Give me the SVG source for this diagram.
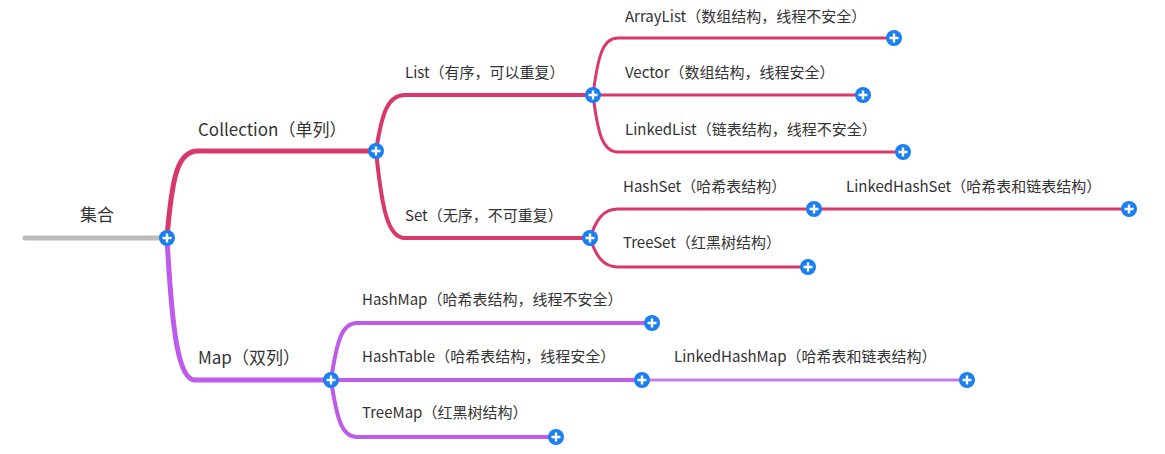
<svg xmlns="http://www.w3.org/2000/svg" width="1165" height="454" viewBox="0 0 1165 454">
<defs>
<style>
text{font-family:"Noto Sans CJK SC","Microsoft YaHei","Liberation Sans",sans-serif;fill:#333;}
.t1{font-size:17px;}
.t2{font-size:15px;}
.c{fill:none;stroke-linecap:round;}
.pk{stroke:#d9386d;}
.pu{stroke:#bf5bea;}
.w5{stroke-width:5;}
.w4{stroke-width:4;}
.w3{stroke-width:3;}
</style>
<g id="plus">
<circle r="8" fill="#1a7ff0"/>
<path d="M-4.5,0H4.5M0,-4.5V4.5" stroke="#fff" stroke-width="2.4"/>
</g>
</defs>
<rect width="1165" height="454" fill="#fff"/>
<g id="connectors">
<path class="c w5" stroke="#bbbbbb" d="M25,238H167"/>
<path class="c pk w5" d="M167,238 C172,175 178,151 198,151 H376"/>
<path class="c pu w5" d="M167,238 C172,330 178,380 195,380 H331"/>
<path class="c pk w4" d="M376,151 C382,112 388,95 405,95 H593"/>
<path class="c pk w4" d="M376,151 C382,210 388,238 405,238 H590"/>
<path class="c pk w3" d="M593,95 C598,55 603,38 618,38 H894"/>
<path class="c pk w3" d="M593,95 H863"/>
<path class="c pk w3" d="M593,95 C598,135 603,152 618,152 H903"/>
<path class="c pk w3" d="M590,238 C596,220 603,209 618,209 H814"/>
<path class="c pk w3" d="M814,209 H1129"/>
<path class="c pk w3" d="M590,238 C596,256 603,267 618,267 H808"/>
<path class="c pu w4" d="M331,380 C337,340 342,323 357,323 H652"/>
<path class="c pu w4" d="M331,380 H642"/>
<path class="c w3" stroke="#c77cea" d="M642,380 H967"/>
<path class="c pu w4" d="M331,380 C337,420 342,437 357,437 H556"/>
</g>
<g id="n-root"><text x="97" y="221" class="t1" text-anchor="middle">集合</text><use href="#plus" x="167" y="238"/></g>
<g id="n-collection"><text x="198" y="136" class="t1">Collection（单列）</text><use href="#plus" x="376" y="151"/></g>
<g id="n-map"><text x="198" y="364" class="t1">Map（双列）</text><use href="#plus" x="331" y="380"/></g>
<g id="n-list"><text x="405" y="78" class="t2">List（有序，可以重复）</text><use href="#plus" x="593" y="95"/></g>
<g id="n-set"><text x="405" y="221" class="t2">Set（无序，不可重复）</text><use href="#plus" x="590" y="238"/></g>
<g id="n-arraylist"><text x="625" y="22" class="t2">ArrayList（数组结构，线程不安全）</text><use href="#plus" x="894" y="38"/></g>
<g id="n-vector"><text x="625" y="78" class="t2">Vector（数组结构，线程安全）</text><use href="#plus" x="863" y="95"/></g>
<g id="n-linkedlist"><text x="625" y="135" class="t2">LinkedList（链表结构，线程不安全）</text><use href="#plus" x="903" y="152"/></g>
<g id="n-hashset"><text x="623" y="192" class="t2">HashSet（哈希表结构）</text><use href="#plus" x="814" y="209"/></g>
<g id="n-linkedhashset"><text x="846" y="192" class="t2">LinkedHashSet（哈希表和链表结构）</text><use href="#plus" x="1129" y="209"/></g>
<g id="n-treeset"><text x="623" y="248" class="t2">TreeSet（红黑树结构）</text><use href="#plus" x="808" y="267"/></g>
<g id="n-hashmap"><text x="362" y="305" class="t2">HashMap（哈希表结构，线程不安全）</text><use href="#plus" x="652" y="323"/></g>
<g id="n-hashtable"><text x="362" y="362" class="t2">HashTable（哈希表结构，线程安全）</text><use href="#plus" x="642" y="380"/></g>
<g id="n-linkedhashmap"><text x="674" y="362" class="t2">LinkedHashMap（哈希表和链表结构）</text><use href="#plus" x="967" y="380"/></g>
<g id="n-treemap"><text x="362" y="418" class="t2">TreeMap（红黑树结构）</text><use href="#plus" x="556" y="437"/></g>
</svg>
